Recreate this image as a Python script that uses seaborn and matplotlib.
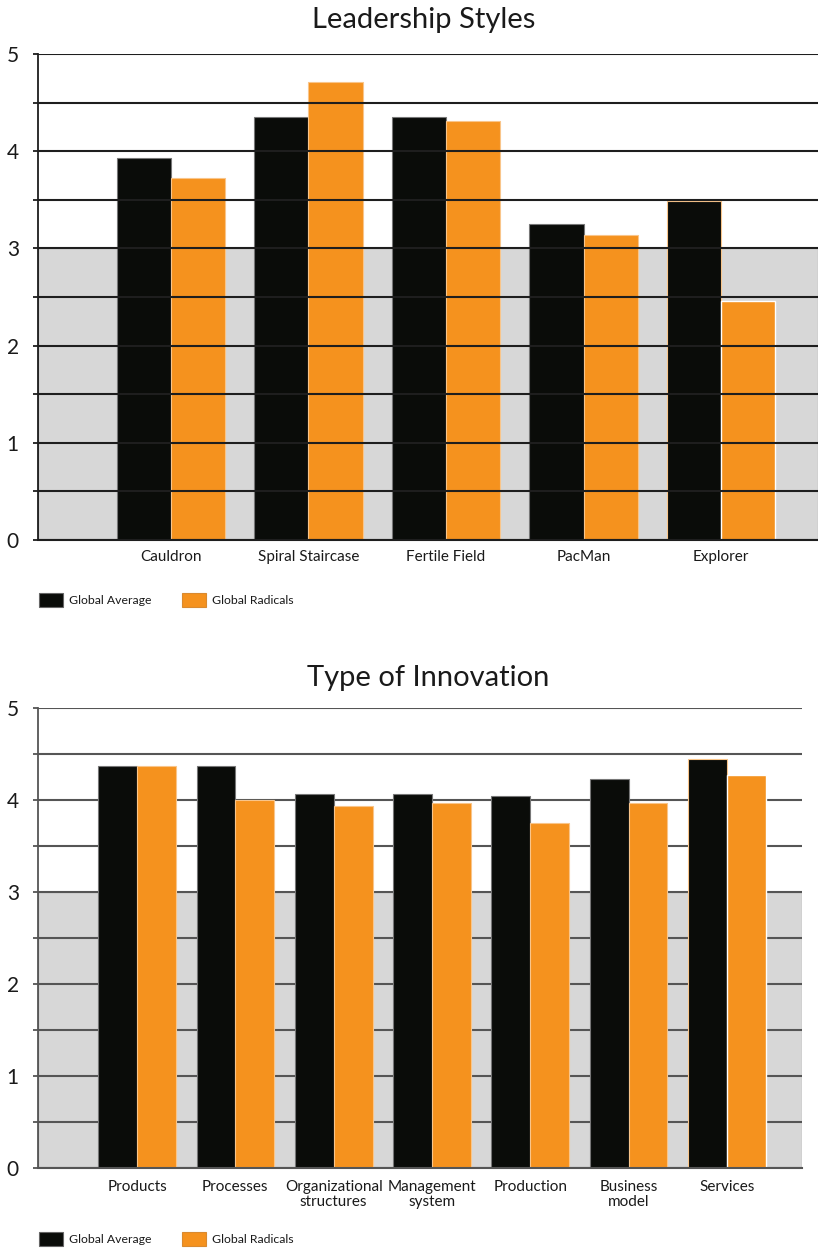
import numpy as np
import pandas as pd
import matplotlib
matplotlib.use("Agg")
import matplotlib.pyplot as plt
from matplotlib.patches import Patch
from matplotlib.ticker import MultipleLocator
import seaborn as sns

# ---- data ----
groups = ["Global Average", "Global Radicals"]

styles = ["Cauldron", "Spiral Staircase", "Fertile Field", "PacMan", "Explorer"]
styles_avg = [3.93, 4.35, 4.35, 3.25, 3.49]
styles_rad = [3.72, 4.71, 4.31, 3.14, 2.46]

innovation = ["Products", "Processes", "Organizational\nstructures",
              "Management\nsystem", "Production", "Business\nmodel", "Services"]
innov_avg = [4.37, 4.37, 4.07, 4.07, 4.04, 4.23, 4.45]
innov_rad = [4.37, 4.00, 3.93, 3.97, 3.75, 3.97, 4.27]

BLACK = "#0a0c09"
ORANGE = "#f5921e"
GREY_BAND = "#d7d7d7"
TEXT = "#1a1a1a"

sns.set_style("white")
plt.rcParams["font.family"] = ["Lato", "DejaVu Sans"]

W, H = 818, 1250
fig = plt.figure(figsize=(W / 100, H / 100), dpi=100)


def px_axes(left, right, top, bottom):
    return fig.add_axes([left / W, 1 - bottom / H, (right - left) / W, (bottom - top) / H])


def long_frame(cats, avg, rad):
    return pd.DataFrame({
        "category": cats * 2,
        "score": avg + rad,
        "group": [groups[0]] * len(cats) + [groups[1]] * len(cats),
    })


def draw_panel(ax, cats, avg, rad, xlim, line_color, grid_on_top, edge_colors, xpad):
    df = long_frame(cats, avg, rad)
    ax.axhspan(0, 3, color=GREY_BAND, zorder=0.2, lw=0)
    sns.barplot(data=df, x="category", y="score", hue="group", order=cats,
                hue_order=groups, palette=[BLACK, ORANGE], width=0.79,
                saturation=1, errorbar=None, legend=False, ax=ax, zorder=1)
    for bar, ec in zip(ax.patches, [edge_colors[0]] * len(cats) + [edge_colors[1]] * len(cats)):
        bar.set_edgecolor(ec)
        bar.set_linewidth(0.8)
    ax.set_xlim(*xlim)
    ax.set_ylim(0, 5)
    ax.yaxis.set_major_locator(MultipleLocator(1))
    ax.yaxis.set_minor_locator(MultipleLocator(0.5))
    ax.grid(False)
    ax.yaxis.grid(True, which="both", color=line_color, lw=1.5)
    ax.set_axisbelow(not grid_on_top)
    for s in ["top", "right"]:
        ax.spines[s].set_visible(False)
    ax.spines["left"].set_color(line_color)
    ax.spines["left"].set_linewidth(1.3)
    ax.spines["bottom"].set_color(line_color)
    ax.spines["bottom"].set_linewidth(1.5)
    ax.spines["bottom"].set_zorder(3)
    ax.tick_params(axis="y", which="both", length=3.8, width=1.3, color=line_color,
                   labelsize=15, pad=10, labelcolor=TEXT, left=True)
    ax.tick_params(axis="x", length=0, labelsize=11, pad=xpad, labelcolor=TEXT)
    for lab in ax.get_xticklabels():
        lab.set_linespacing(1.08)
    ax.set_xlabel("")
    ax.set_ylabel("")


# Leadership styles panel
ax1 = px_axes(38, 818, 54, 540)
draw_panel(ax1, styles, styles_avg, styles_rad, (-0.967, 4.705), "#1e1e1e",
           grid_on_top=True, edge_colors=["#777777", "#f9c58a"], xpad=7.5)
fig.text(424 / W, 1 - 20 / H, "Leadership Styles", ha="center", va="center",
         fontsize=21, color=TEXT)

# Innovation type panel
ax2 = px_axes(38, 802, 708, 1168)
draw_panel(ax2, innovation, innov_avg, innov_rad, (-1.007, 6.763), "#555555",
           grid_on_top=False, edge_colors=["#777777", "#f9c58a"], xpad=8.5)
fig.text(428 / W, 1 - 678 / H, "Type of Innovation", ha="center", va="center",
         fontsize=21, color=TEXT)

# Legends below each panel
handles = [Patch(facecolor=BLACK, edgecolor="#666666", lw=0.8),
           Patch(facecolor=ORANGE, edgecolor="#d98a30", lw=0.8)]
for ycen in (600, 1239):
    fig.legend(handles, groups, loc="center left",
               bbox_to_anchor=(39 / W, 1 - ycen / H), ncol=2, frameon=False,
               fontsize=8.8, handlelength=1.95, handleheight=1.4,
               handletextpad=0.5, columnspacing=2.5, borderpad=0,
               borderaxespad=0, labelcolor=TEXT)

fig.savefig("out.png", dpi=100)
